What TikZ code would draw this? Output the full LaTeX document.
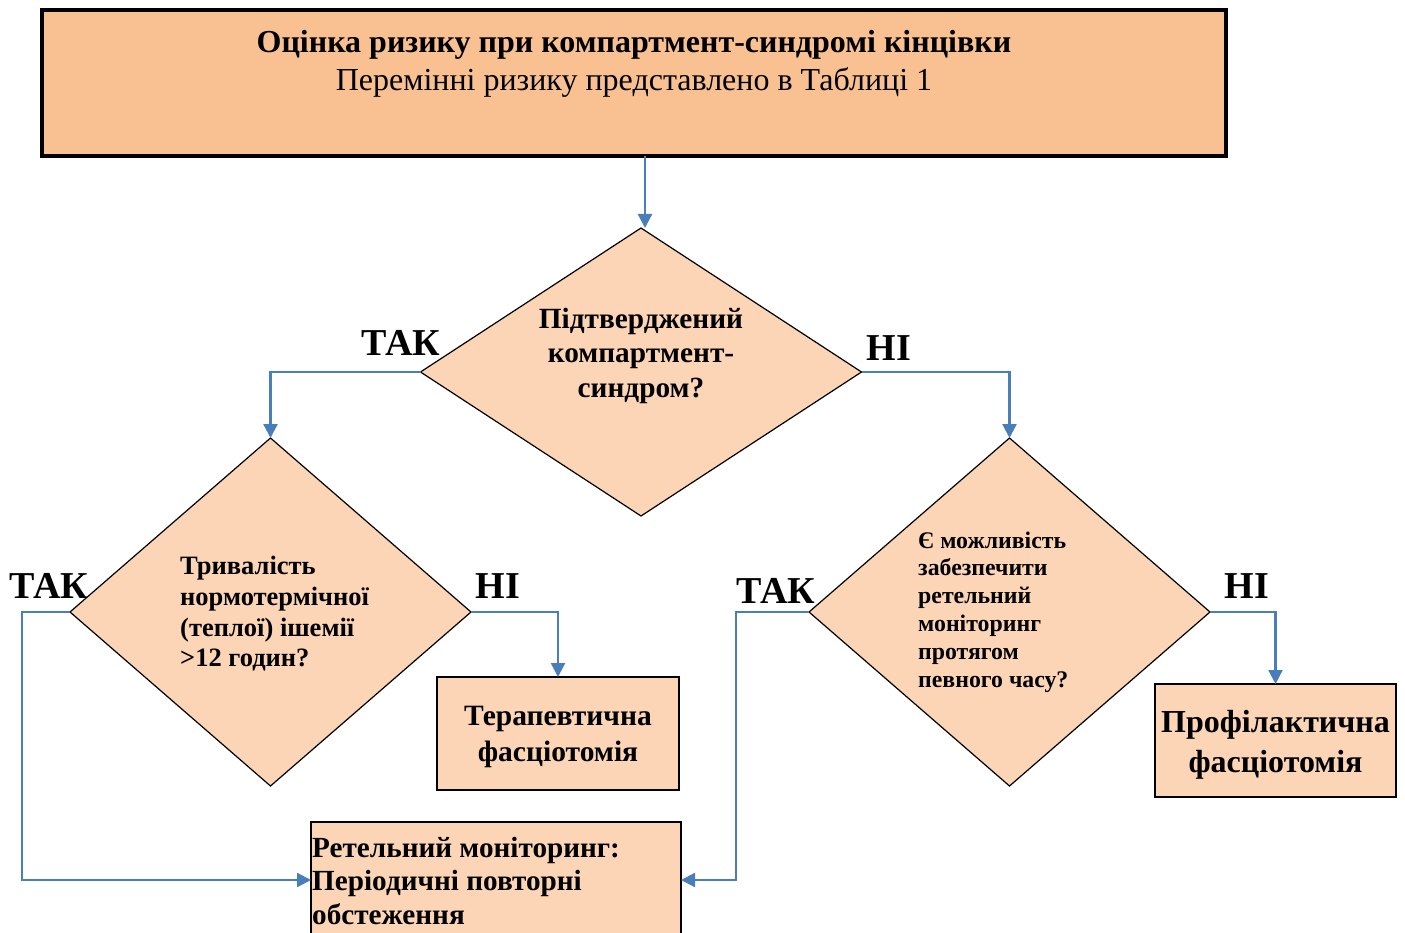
\documentclass[tikz,border=0pt]{standalone}
\usepackage{fontspec}
\setmainfont{Liberation Serif}
\usetikzlibrary{shapes.geometric,arrows.meta,calc}
\definecolor{topfill}{HTML}{F9C192}
\definecolor{pfill}{HTML}{FBD5B5}
\definecolor{conblue}{HTML}{4A7EBB}
\tikzset{
  dia/.style={diamond,draw=black,line width=1.2pt,fill=pfill,inner sep=0pt,outer sep=0pt},
  pbox/.style={rectangle,draw=black,line width=1.2pt,fill=pfill,inner sep=0pt,outer sep=0pt},
  conn/.style={draw=conblue,line width=2.3pt,-{Triangle[length=14pt,width=14pt]}},
  lab/.style={font=\bfseries\fontsize{38}{40}\selectfont,inner sep=0pt},
  txt/.style={inner sep=0pt,font=\bfseries}
}
\begin{document}
\begin{tikzpicture}[x=1pt,y=-1pt]
\useasboundingbox (0,0) rectangle (1405,933);
\clip (0,0) rectangle (1405,933);
% top box
\node[rectangle,draw=black,line width=4pt,fill=topfill,minimum width=1184pt,minimum height=146pt,inner sep=0pt,outer sep=0pt] (top) at (634,83) {};
\node[inner sep=0pt,align=center,font=\fontsize{32}{38}\selectfont] (toptxt) at (634,63.5) {\textbf{Оцінка ризику при компартмент-синдромі кінцівки}\\Перемінні ризику представлено в Таблиці 1};
% diamonds
\node[dia,minimum width=441pt,minimum height=288pt] (d1) at (641,372) {};
\node[dia,minimum width=401pt,minimum height=348pt] (d2) at (270.5,612) {};
\node[dia,minimum width=401pt,minimum height=348pt] (d3) at (1009.5,612) {};
\node[txt,align=center,font=\bfseries\fontsize{29.3}{34.5}\selectfont] (d1t) at (641,355.5) {Підтверджений\\компартмент-\\синдром?};
\node[txt,align=left,anchor=west,font=\bfseries\fontsize{26.5}{30.7}\selectfont] (d2t) at (180,614) {Тривалість\\нормотермічної\\(теплої) ішемії\\>12 годин?};
\node[txt,align=left,anchor=west,font=\bfseries\fontsize{23.8}{27.8}\selectfont] (d3t) at (918,612) {Є можливість\\забезпечити\\ретельний\\моніторинг\\протягом\\певного часу?};
% boxes
\node[pbox,minimum width=242pt,minimum height=113pt] (b1) at (558,733.5) {};
\node[txt,align=center,font=\bfseries\fontsize{29.5}{36}\selectfont] (b1t) at (558,737) {Терапевтична\\фасціотомія};
\node[pbox,minimum width=241pt,minimum height=113pt] (b2) at (1275.5,740.5) {};
\node[txt,align=center,font=\bfseries\fontsize{32}{40}\selectfont] (b2t) at (1275.5,744.5) {Профілактична\\фасціотомія};
\node[pbox,minimum width=370pt,minimum height=116pt] (bot) at (496,880) {};
\node[txt,align=left,anchor=west,font=\bfseries\fontsize{29.2}{33.5}\selectfont] (bott) at (312,881) {Ретельний моніторинг:\\Періодичні повторні\\обстеження};
% connectors
\draw[conn] ($(d1.north |- top.south)+(4,0)$) -- ($(d1.north)+(4,0)$);
\draw[conn] (d1.west) -| (d2.north);
\draw[conn] (d1.east) -| (d3.north);
\coordinate (lc) at (22,612);
\draw[conn] (d2.west) -- (lc) |- (bot.west);
\draw[conn] (d2.east) -| (b1.north);
\coordinate (rc) at (736,612);
\draw[conn] (d3.west) -- (rc) |- (bot.east);
\draw[conn] (d3.east) -| (b2.north);
% labels
\node[lab] (l1) at (401,343) {ТАК};
\node[lab] (l2) at (889,348) {НІ};
\node[lab] (l3) at (49,586) {ТАК};
\node[lab] (l4) at (498,586) {НІ};
\node[lab] (l5) at (776,591) {ТАК};
\node[lab] (l6) at (1247,586) {НІ};
\end{tikzpicture}
\end{document}
